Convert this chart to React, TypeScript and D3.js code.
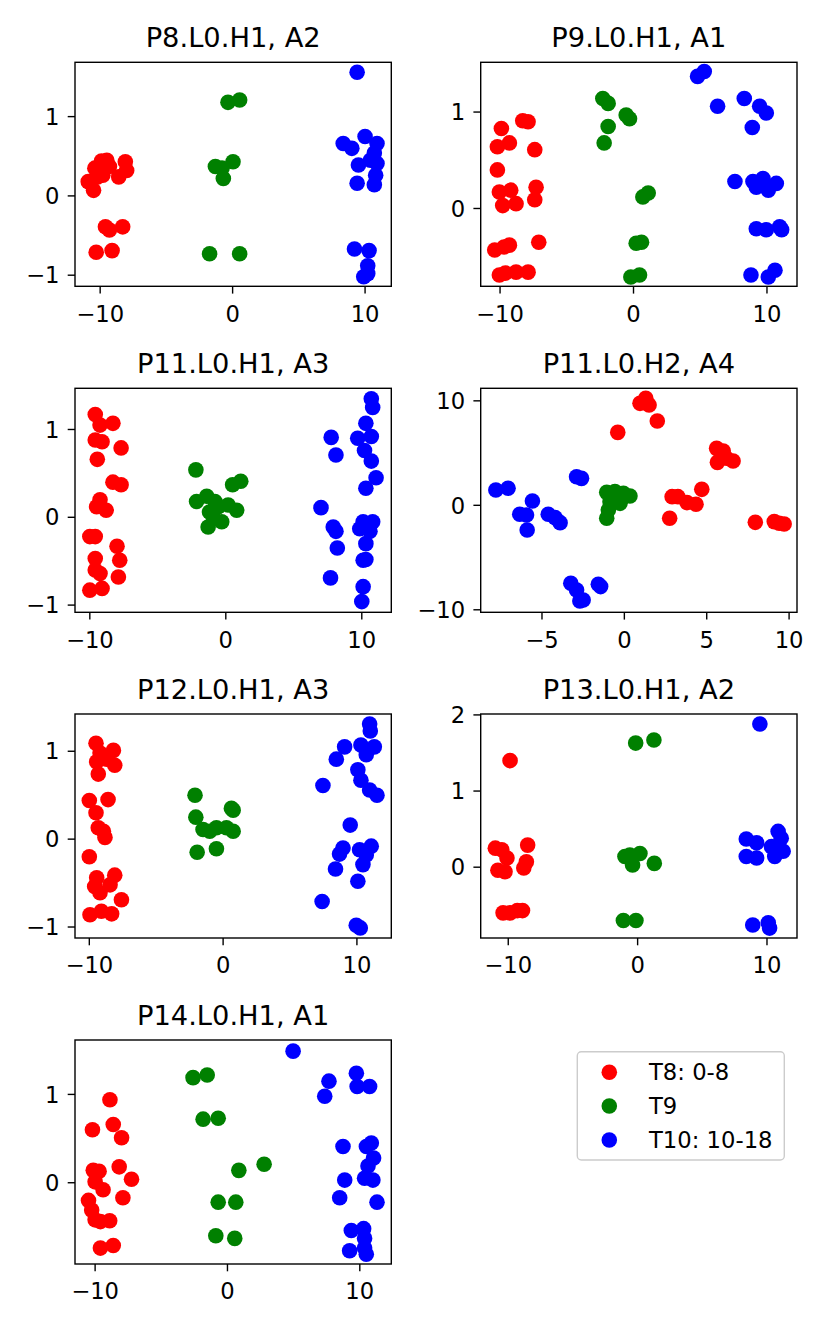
import React from 'react';
import * as d3 from 'd3';

type Pt = [number, number];

// ---------- data ----------
const p8Red: Pt[] = [[-10.9,0.18],[-10.5,0.07],[-10.4,0.35],[-10.0,0.39],[-9.5,0.45],[-9.8,0.26],[-9.3,0.37],[-8.6,0.24],[-8.1,0.43],[-8.0,0.32],[-9.9,0.44],[-10.2,0.24],[-9.6,-0.39],[-9.3,-0.43],[-8.3,-0.39],[-10.3,-0.71],[-9.1,-0.69]];
const p8Green: Pt[] = [[-0.35,1.18],[0.53,1.21],[-1.3,0.37],[-0.8,0.35],[0.03,0.43],[-0.7,0.22],[-1.74,-0.73],[0.53,-0.73]];
const p8Blue: Pt[] = [[9.4,1.56],[8.35,0.66],[9.0,0.6],[10.0,0.75],[10.9,0.66],[10.7,0.54],[9.5,0.39],[10.4,0.45],[10.9,0.41],[10.8,0.26],[9.4,0.16],[10.7,0.14],[9.2,-0.67],[10.3,-0.69],[10.2,-0.88],[9.9,-1.02],[10.2,-0.98]];

const p9Red: Pt[] = [[-9.9,0.83],[-10.2,0.64],[-9.3,0.68],[-8.3,0.91],[-7.9,0.9],[-7.4,0.61],[-10.2,0.4],[-10.05,0.17],[-9.2,0.19],[-9.8,0.03],[-8.8,0.05],[-7.3,0.22],[-7.4,0.09],[-10.4,-0.43],[-9.7,-0.4],[-9.3,-0.38],[-7.1,-0.35],[-10.05,-0.69],[-9.6,-0.67],[-8.8,-0.66],[-7.9,-0.66]];
const p9Green: Pt[] = [[-2.3,1.14],[-1.9,1.09],[-1.9,0.85],[-2.2,0.68],[-0.55,0.97],[-0.3,0.93],[0.7,0.12],[1.1,0.16],[0.2,-0.36],[0.6,-0.35],[-0.2,-0.71],[0.45,-0.69]];
const p9Blue: Pt[] = [[4.8,1.37],[5.3,1.42],[6.3,1.06],[8.3,1.14],[9.45,1.06],[9.95,0.99],[8.9,0.84],[7.6,0.28],[8.95,0.28],[9.7,0.31],[10.1,0.19],[10.7,0.26],[9.2,0.22],[9.2,-0.21],[9.95,-0.22],[10.95,-0.19],[11.1,-0.22],[8.8,-0.69],[10.1,-0.71],[10.6,-0.64]];

const p11aRed: Pt[] = [[-9.6,1.17],[-9.25,1.05],[-8.3,1.07],[-9.6,0.88],[-9.1,0.86],[-7.7,0.79],[-9.45,0.66],[-8.3,0.4],[-7.7,0.37],[-9.25,0.2],[-9.5,0.12],[-8.8,0.08],[-10.0,-0.22],[-9.6,-0.22],[-8.0,-0.33],[-9.6,-0.47],[-7.8,-0.49],[-9.6,-0.6],[-9.25,-0.64],[-7.9,-0.68],[-10.0,-0.83],[-9.1,-0.81]];
const p11aGreen: Pt[] = [[-2.2,0.54],[0.5,0.37],[1.1,0.41],[-2.15,0.18],[-1.4,0.24],[-0.8,0.18],[-0.55,0.12],[0.17,0.14],[0.8,0.08],[-1.2,0.06],[-1.3,-0.11],[-0.3,-0.05],[-0.9,-0.01]];
const p11aBlue: Pt[] = [[10.7,1.35],[10.8,1.25],[10.3,1.07],[9.7,0.9],[10.7,0.92],[7.75,0.91],[8.1,0.71],[10.2,0.76],[10.7,0.64],[11.05,0.45],[10.3,0.33],[7.0,0.11],[7.9,-0.11],[8.1,-0.16],[8.2,-0.35],[7.7,-0.69],[10.1,-0.05],[10.8,-0.05],[9.85,-0.13],[10.6,-0.16],[10.3,-0.3],[10.1,-0.49],[10.3,-0.48],[10.1,-0.79],[10.0,-0.96]];

const p11bRed: Pt[] = [[0.95,9.76],[1.3,10.24],[1.5,9.6],[2.0,8.07],[-0.4,6.98],[5.6,5.45],[6.0,5.2],[5.65,4.11],[6.2,4.5],[6.6,4.24],[4.7,1.53],[2.9,0.83],[3.25,0.83],[3.8,0.26],[4.35,0.1],[2.75,-1.24],[7.95,-1.63],[9.1,-1.56],[9.4,-1.72],[9.7,-1.79]];
const p11bGreen: Pt[] = [[-1.07,1.24],[-0.57,1.31],[-0.06,1.15],[0.34,0.89],[-0.87,0.35],[-0.26,0.19],[-0.97,-0.45],[-1.07,-1.24],[-0.67,0.67]];
const p11bBlue: Pt[] = [[-7.8,1.47],[-7.06,1.63],[-5.58,0.41],[-6.35,-0.86],[-5.94,-0.93],[-5.9,-2.36],[-4.62,-0.86],[-4.2,-1.18],[-3.9,-1.66],[-2.9,2.74],[-2.6,2.58],[-3.25,-7.46],[-2.9,-8.1],[-2.7,-9.15],[-2.5,-9.06],[-1.58,-7.56],[-1.44,-7.78]];

const p12Red: Pt[] = [[-9.5,1.09],[-9.2,0.98],[-8.2,1.01],[-9.45,0.88],[-8.7,0.91],[-8.1,0.84],[-9.33,0.74],[-10.0,0.44],[-8.6,0.45],[-9.5,0.3],[-9.33,0.13],[-8.95,0.09],[-8.83,0.02],[-10.0,-0.2],[-9.45,-0.44],[-8.1,-0.41],[-9.6,-0.54],[-8.45,-0.52],[-9.2,-0.61],[-7.6,-0.69],[-9.95,-0.86],[-9.1,-0.82],[-8.33,-0.85]];
const p12Green: Pt[] = [[-2.1,0.5],[-2.04,0.25],[0.62,0.35],[0.75,0.33],[-1.5,0.11],[-0.5,0.13],[0.25,0.13],[0.75,0.09],[-1.94,-0.15],[-0.5,-0.11],[-1.0,0.09]];
const p12Blue: Pt[] = [[10.95,1.31],[11.0,1.23],[9.08,1.05],[8.46,0.91],[10.3,1.07],[11.3,1.05],[10.7,0.96],[10.07,0.79],[10.3,0.67],[10.95,0.56],[11.5,0.5],[7.46,0.61],[9.5,0.16],[8.96,-0.1],[8.7,-0.17],[8.4,-0.34],[10.2,-0.12],[11.07,-0.08],[10.7,-0.18],[10.45,-0.29],[10.07,-0.48],[7.4,-0.71],[9.95,-0.98],[10.25,-1.01]];

const p13Red: Pt[] = [[-9.86,1.4],[-11.0,0.25],[-10.5,0.23],[-10.1,0.12],[-10.8,-0.04],[-10.25,-0.06],[-8.5,0.29],[-8.6,0.07],[-8.8,-0.01],[-10.4,-0.6],[-9.86,-0.6],[-9.3,-0.57],[-8.9,-0.57]];
const p13Green: Pt[] = [[-0.15,1.63],[1.26,1.67],[-0.98,0.14],[-0.6,0.16],[0.18,0.18],[-0.39,0.03],[1.29,0.05],[-1.1,-0.7],[-0.13,-0.7]];
const p13Blue: Pt[] = [[9.45,1.88],[8.4,0.37],[9.2,0.32],[8.4,0.14],[9.2,0.12],[10.86,0.47],[11.1,0.38],[10.35,0.27],[11.25,0.21],[10.6,0.14],[8.9,-0.76],[10.1,-0.73],[10.2,-0.8]];

const p14Red: Pt[] = [[-8.88,0.94],[-10.2,0.6],[-8.63,0.66],[-8.0,0.51],[-10.14,0.14],[-9.7,0.13],[-8.18,0.18],[-7.25,0.04],[-10.0,0.01],[-9.4,-0.08],[-7.9,-0.17],[-10.5,-0.2],[-10.26,-0.31],[-10.0,-0.42],[-9.6,-0.44],[-8.9,-0.43],[-9.6,-0.74],[-8.63,-0.71]];
const p14Green: Pt[] = [[-2.6,1.19],[-1.53,1.22],[-1.84,0.72],[-0.7,0.73],[0.86,0.14],[2.77,0.21],[-0.7,-0.22],[0.63,-0.22],[-0.88,-0.6],[0.55,-0.63]];
const p14Blue: Pt[] = [[4.96,1.49],[7.67,1.15],[7.35,0.98],[9.74,1.24],[9.8,1.09],[10.74,1.09],[8.73,0.41],[8.86,0.03],[8.48,-0.17],[10.87,0.45],[10.5,0.41],[11.04,0.28],[10.62,0.19],[10.36,0.05],[10.99,0.03],[11.3,-0.22],[9.36,-0.54],[10.29,-0.52],[10.36,-0.63],[9.23,-0.77],[10.49,-0.81],[10.36,-0.74]];

const titles = ['P8.L0.H1, A2', 'P9.L0.H1, A1', 'P11.L0.H1, A3', 'P11.L0.H2, A4', 'P12.L0.H1, A3', 'P13.L0.H1, A2', 'P14.L0.H1, A1'];
const xLims: Pt[] = [[-11.9, 11.98], [-11.45, 12.25], [-11.09, 12.17], [-8.72, 10.48], [-11.07, 12.57], [-12.13, 12.32], [-11.52, 12.38]];
const yLims: Pt[] = [[-1.14, 1.685], [-0.807, 1.516], [-1.082, 1.469], [-10.24, 11.2], [-1.125, 1.424], [-0.93, 2.012], [-0.92, 1.616]];
const xTicks: number[][] = [[-10, 0, 10], [-10, 0, 10], [-10, 0, 10], [-5, 0, 5, 10], [-10, 0, 10], [-10, 0, 10], [-10, 0, 10]];
const yTicks: number[][] = [[-1, 0, 1], [0, 1], [-1, 0, 1], [-10, 0, 10], [-1, 0, 1], [0, 1, 2], [0, 1]];
const redSeries: Pt[][] = [p8Red, p9Red, p11aRed, p11bRed, p12Red, p13Red, p14Red];
const greenSeries: Pt[][] = [p8Green, p9Green, p11aGreen, p11bGreen, p12Green, p13Green, p14Green];
const blueSeries: Pt[][] = [p8Blue, p9Blue, p11aBlue, p11bBlue, p12Blue, p13Blue, p14Blue];
const legendLabels = ['T8: 0-8', 'T9', 'T10: 10-18'];
const seriesColors = ['#ff0000', '#008000', '#0000ff'];

// ---------- layout ----------
const W = 830, H = 1329;
const colLeft = [75, 480.7];
const rowTop = [62.3, 388.3, 714, 1040];
const axW = 316.3, axH = 224;
const FONT = 'DejaVu Sans, sans-serif';
const tickFont = 22.7;
const titleFont = 27.3;
const R = 7.8;
const fmt = d3.format('d');

function Panel({ i }: { i: number }) {
  const left = colLeft[i % 2];
  const top = rowTop[Math.floor(i / 2)];
  const x = d3.scaleLinear().domain(xLims[i]).range([0, axW]);
  const y = d3.scaleLinear().domain(yLims[i]).range([axH, 0]);
  const series = [redSeries[i], greenSeries[i], blueSeries[i]];
  const clipId = `clip${i}`;
  return (
    <g transform={`translate(${left},${top})`}>
      <defs>
        <clipPath id={clipId}><rect x={0} y={0} width={axW} height={axH} /></clipPath>
      </defs>
      <g clipPath={`url(#${clipId})`}>
        {series.map((pts, s) => pts.map((p, k) => (
          <circle key={`${s}-${k}`} cx={x(p[0])} cy={y(p[1])} r={R} fill={seriesColors[s]} />
        )))}
      </g>
      <rect x={0} y={0} width={axW} height={axH} fill="none" stroke="#000" strokeWidth={1.4} />
      {xTicks[i].map(t => (
        <g key={`x${t}`} transform={`translate(${x(t)},${axH})`}>
          <line y1={0} y2={7.3} stroke="#000" strokeWidth={1.4} />
          <text y={35.3} textAnchor="middle" fontSize={tickFont} fontFamily={FONT}>{fmt(t)}</text>
        </g>
      ))}
      {yTicks[i].map(t => (
        <g key={`y${t}`} transform={`translate(0,${y(t)})`}>
          <line x1={0} x2={-7.3} stroke="#000" strokeWidth={1.4} />
          <text x={-15.5} y={8.2} textAnchor="end" fontSize={tickFont} fontFamily={FONT}>{fmt(t)}</text>
        </g>
      ))}
      <text x={axW / 2} y={-15} textAnchor="middle" fontSize={titleFont} fontFamily={FONT}>{titles[i]}</text>
    </g>
  );
}

function Legend() {
  const lx = 577.3, ly = 1051.7, lw = 207, lh = 108.3;
  const rowYs = [1072.3, 1106, 1140];
  return (
    <g>
      <rect x={lx} y={ly} width={lw} height={lh} rx={4} ry={4} fill="#fff" fillOpacity={0.8} stroke="#cccccc" strokeWidth={1.4} />
      {legendLabels.map((lab, k) => (
        <g key={lab}>
          <circle cx={609.3} cy={rowYs[k]} r={R} fill={seriesColors[k]} />
          <text x={649} y={rowYs[k] + 7.6} fontSize={tickFont} fontFamily={FONT}>{lab}</text>
        </g>
      ))}
    </g>
  );
}

export default function App() {
  return (
    <svg width={W} height={H} viewBox={`0 0 ${W} ${H}`}
      style={{ position: 'absolute', left: 0, top: 0, background: '#fff', display: 'block' }}>
      <rect x={0} y={0} width={W} height={H} fill="#fff" />
      {titles.map((_, i) => <Panel key={i} i={i} />)}
      <Legend />
    </svg>
  );
}
